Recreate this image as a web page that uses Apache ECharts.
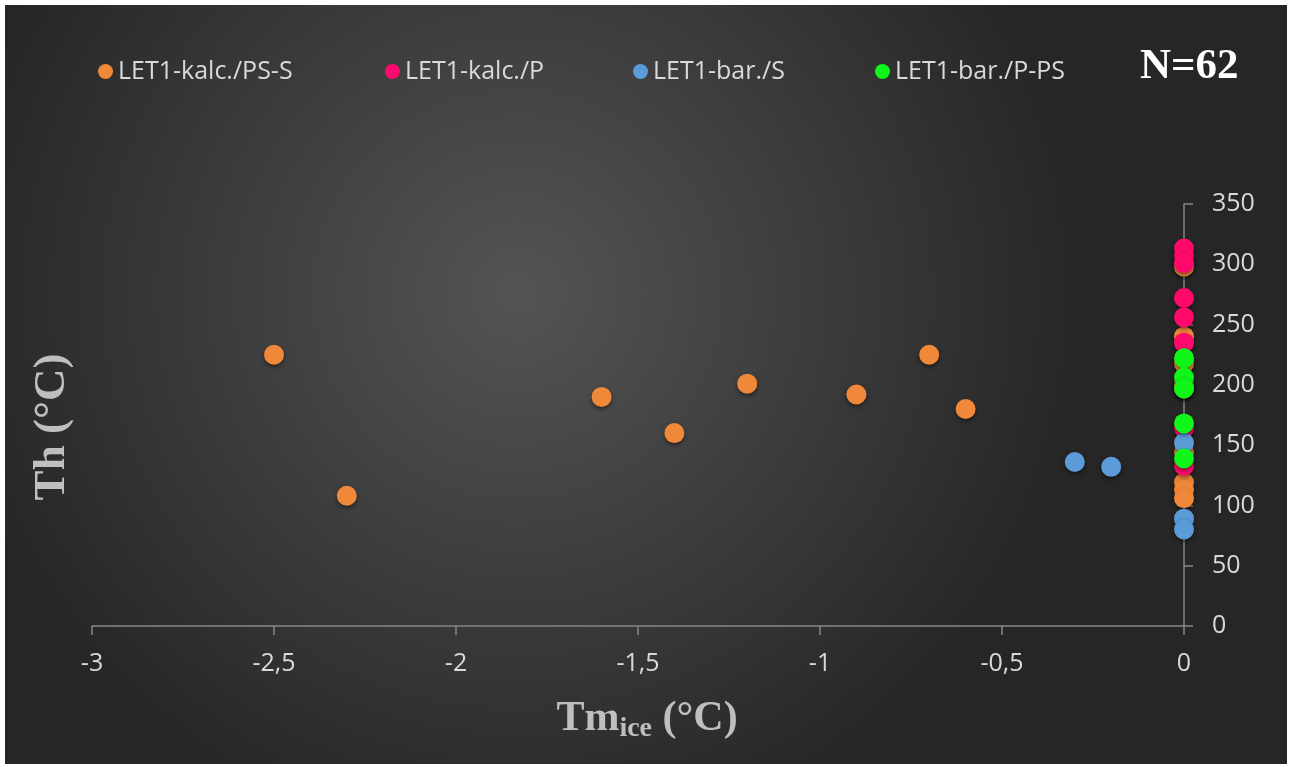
<!DOCTYPE html>
<html>
<head>
<meta charset="utf-8">
<script src="https://cdn.jsdelivr.net/npm/echarts@6/dist/echarts.min.js"></script>
<style>
	html, body { margin: 0; padding: 0; background: #ffffff; }
	#chart { position: absolute; left: 5px; top: 5px; width: 1282px; height: 759px; }
</style>
</head>
<body>
<div id="chart"></div>
<script>
"use strict";

// Tm ice (x), Th (y) pairs per group
var kalcPSS = [[-2.5, 225], [-2.3, 108], [-1.6, 190], [-1.4, 160], [-1.2, 201], [-0.9, 192], [-0.7, 225], [-0.6, 180],
	[0, 298], [0, 240], [0, 218], [0, 200], [0, 197], [0, 144], [0, 119], [0, 113], [0, 106]];
var kalcP = [[0, 313], [0, 307], [0, 301], [0, 272], [0, 256], [0, 235], [0, 164], [0, 133]];
var barS = [[-0.3, 136], [-0.2, 132], [0, 152], [0, 89], [0, 80]];
var barPPS = [[0, 222], [0, 206], [0, 197], [0, 168], [0, 139]];

var seriesNames = ['LET1-kalc./PS-S', 'LET1-kalc./P', 'LET1-bar./S', 'LET1-bar./P-PS'];
var seriesColors = ['#f0883a', '#ff0a6c', '#5b9bd8', '#10f51a'];
var seriesData = [kalcPSS, kalcP, barS, barPPS];
var legendLeft = [88, 375, 623, 865];

var myChart = echarts.init(document.getElementById('chart'));

var labelColor = '#d9d9d9';
var lineColor = '#868686';

function makeSeries(i) {
	return {
		name: seriesNames[i],
		type: 'scatter',
		data: seriesData[i],
		symbol: 'circle',
		symbolSize: 20,
		itemStyle: {
			color: seriesColors[i],
			opacity: 1,
			shadowBlur: 4,
			shadowOffsetY: 2,
			shadowColor: 'rgba(0,0,0,0.5)'
		}
	};
}

function makeLegend(i) {
	return {
		left: legendLeft[i],
		top: 49,
		itemWidth: 15,
		itemHeight: 15,
		itemGap: 5,
		icon: 'circle',
		textStyle: { color: labelColor, fontSize: 25, fontFamily: 'Open Sans' },
		data: [seriesNames[i]]
	};
}

var option = {
	animation: false,
	backgroundColor: {
		type: 'radial', x: 0.4, y: 0.38, r: 0.75,
		colorStops: [
			{ offset: 0, color: '#545454' },
			{ offset: 1, color: '#262626' }
		]
	},
	legend: [makeLegend(0), makeLegend(1), makeLegend(2), makeLegend(3)],
	grid: { left: 87, right: 103, top: 199, bottom: 138 },
	xAxis: {
		type: 'value',
		min: -3, max: 0, interval: 0.5,
		axisLine: { onZero: false, lineStyle: { color: lineColor, width: 1.5 } },
		axisTick: { show: true, length: 9, lineStyle: { color: lineColor, width: 1.5 } },
		splitLine: { show: false },
		axisLabel: {
			color: labelColor, fontSize: 25, fontFamily: 'Open Sans', margin: 25,
			formatter: function(v) { return String(v).replace('.', ','); }
		}
	},
	yAxis: {
		type: 'value',
		position: 'right',
		min: 0, max: 350, interval: 50,
		axisLine: { show: true, onZero: false, lineStyle: { color: lineColor, width: 1.5 } },
		axisTick: { show: true, length: 9, lineStyle: { color: lineColor, width: 1.5 } },
		splitLine: { show: false },
		axisLabel: { color: labelColor, fontSize: 25, fontFamily: 'Open Sans', margin: 28 }
	},
	graphic: [
		{
			type: 'text', left: 1135, top: 40,
			style: { text: 'N=62', fill: '#ffffff', font: 'bold 43px "Liberation Serif"' }
		},
		{
			type: 'text', x: 47, y: 422, rotation: Math.PI / 2,
			style: {
				text: 'Th (°C)', fill: '#bfbfbf', font: 'bold 45px "Liberation Serif"',
				align: 'center', verticalAlign: 'middle'
			}
		},
		{
			type: 'text', x: 642, y: 714,
			style: {
				text: '{a|Tm}{b|ice}{a| (°C)}',
				align: 'center', verticalAlign: 'middle',
				rich: {
					a: { fill: '#bfbfbf', font: 'bold 42px "Liberation Serif"' },
					b: { fill: '#bfbfbf', font: 'bold 28px "Liberation Serif"', padding: [20, 0, 0, 0] }
				}
			}
		}
	],
	series: [makeSeries(0), makeSeries(1), makeSeries(2), makeSeries(3)]
};

myChart.setOption(option);
</script>
</body>
</html>
